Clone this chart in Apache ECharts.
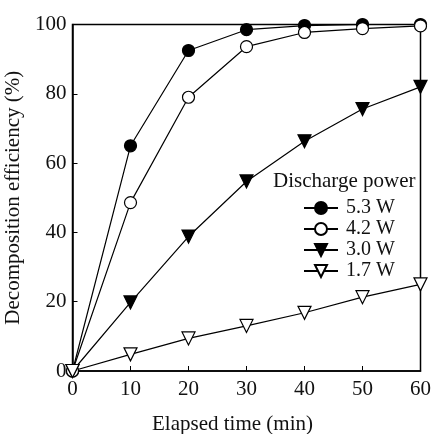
<!DOCTYPE html>
<html>
<head>
<meta charset="utf-8">
<script src="https://cdn.jsdelivr.net/npm/echarts@6/dist/echarts.min.js"></script>
<style>html,body{margin:0;padding:0;background:#fff}#c{width:432px;height:434px}</style>
</head>
<body>
<div id="c"></div>
<script>
const times = [0, 10, 20, 30, 40, 50, 60];
const power53 = [0, 65, 92.5, 98.5, 99.7, 100, 100];
const power42 = [0, 48.6, 79, 93.6, 97.7, 98.8, 99.6];
const power30 = [0, 19.8, 38.8, 54.7, 66.3, 75.6, 82];
const power17 = [0, 4.8, 9.4, 13, 16.8, 21.3, 25];
const seriesNames = ['5.3 W', '4.2 W', '3.0 W', '1.7 W'];
const xTitle = 'Elapsed time (min)';
const yTitle = 'Decomposition efficiency (%)';
const legendTitle = 'Discharge power';

const FONT = 'Liberation Serif, Times New Roman, serif';
const TXT = '#111';

function pairs(vals) { return times.map((t, i) => [t, vals[i]]); }

function mk(name, vals, symbol, rotate, fill, size) {
  return {
    name: name, type: 'line', data: pairs(vals),
    symbol: symbol, symbolRotate: rotate, symbolSize: size,
    lineStyle: { color: '#000', width: 1.2 },
    itemStyle: { color: fill, borderColor: '#000', borderWidth: 1.2 },
    emphasis: { disabled: true },
    animation: false
  };
}

const chart = echarts.init(document.getElementById('c'));
chart.setOption({
  backgroundColor: '#fff',
  animation: false,
  grid: { left: 72.5, right: 11.5, top: 24.5, bottom: 63, show: true, borderColor: '#000', borderWidth: 1.5, outerBoundsMode: 'none' },
  xAxis: {
    type: 'value', min: 0, max: 60, interval: 10,
    name: xTitle, nameLocation: 'middle', nameGap: 43,
    nameTextStyle: { fontFamily: FONT, fontSize: 21, color: TXT, padding: [0, 28, 0, 0] },
    axisLine: { lineStyle: { color: '#000', width: 1.5 } },
    axisTick: { inside: true, length: 5, lineStyle: { color: '#000', width: 1 } },
    axisLabel: { fontFamily: FONT, fontSize: 21, color: TXT, margin: 8 },
    splitLine: { show: false }
  },
  yAxis: {
    type: 'value', min: 0, max: 100, interval: 20,
    name: yTitle, nameLocation: 'middle', nameGap: 40, nameRotate: 90,
    nameTextStyle: { fontFamily: FONT, fontSize: 21, color: TXT },
    axisLine: { show: true, lineStyle: { color: '#000', width: 1.5 } },
    axisTick: { show: true, inside: true, length: 5, lineStyle: { color: '#000', width: 1 } },
    axisLabel: { fontFamily: FONT, fontSize: 21, color: TXT, margin: 6 },
    splitLine: { show: false }
  },
  legend: {
    orient: 'vertical', left: 298, top: 193,
    itemWidth: 34, itemHeight: 15, itemGap: 1,
    data: seriesNames,
    textStyle: { fontFamily: FONT, fontSize: 20, color: TXT, padding: [0, 0, 0, 3] },
    selectedMode: false
  },
  graphic: [{
    type: 'text', left: 273, top: 171,
    style: { text: legendTitle, font: '21px ' + FONT, fill: TXT }
  }],
  series: [
    mk(seriesNames[0], power53, 'circle', 0, '#000', 12),
    mk(seriesNames[1], power42, 'circle', 0, '#fff', 12),
    mk(seriesNames[2], power30, 'triangle', 180, '#000', 13),
    mk(seriesNames[3], power17, 'triangle', 180, '#fff', 13)
  ]
});
</script>
</body>
</html>
